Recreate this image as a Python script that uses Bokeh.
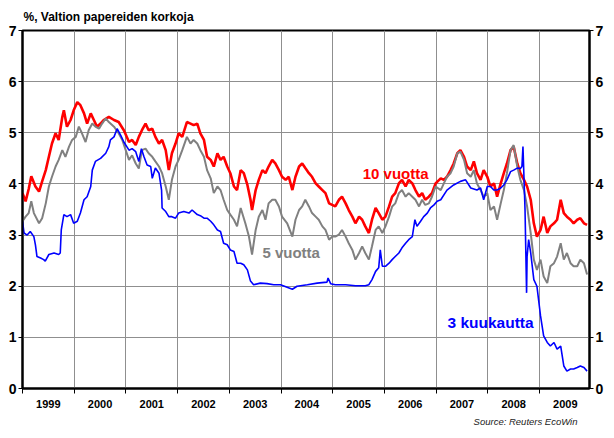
from bokeh.plotting import figure
from bokeh.models import FixedTicker, LinearAxis, Range1d, Label, Title
from bokeh.embed import file_html
from bokeh.resources import INLINE

# ---- data (decimal years, percent) ----
years = [1999, 2000, 2001, 2002, 2003, 2004, 2005, 2006, 2007, 2008, 2009]
year_labels = [str(y) for y in years]
y_ticks = [0, 1, 2, 3, 4, 5, 6, 7]

t_10y = [1999.00, 1999.06, 1999.12, 1999.17, 1999.25, 1999.32, 1999.38, 1999.45, 1999.51, 1999.57,
         1999.64, 1999.70, 1999.77, 1999.80, 1999.86, 1999.93, 1999.99, 2000.06, 2000.12, 2000.19,
         2000.25, 2000.32, 2000.38, 2000.44, 2000.51, 2000.57, 2000.67, 2000.77, 2000.86, 2000.96,
         2001.06, 2001.12, 2001.19, 2001.25, 2001.31, 2001.38, 2001.44, 2001.51, 2001.57, 2001.64,
         2001.70, 2001.77, 2001.83, 2001.89, 2001.96, 2002.02, 2002.09, 2002.18, 2002.25, 2002.31,
         2002.38, 2002.44, 2002.51, 2002.57, 2002.64, 2002.70, 2002.77, 2002.83, 2002.89, 2002.96,
         2003.02, 2003.09, 2003.15, 2003.22, 2003.28, 2003.35, 2003.41, 2003.44, 2003.51, 2003.57,
         2003.64, 2003.70, 2003.76, 2003.83, 2003.89, 2003.96, 2004.02, 2004.09, 2004.15, 2004.22,
         2004.28, 2004.35, 2004.41, 2004.47, 2004.54, 2004.60, 2004.67, 2004.73, 2004.80, 2004.86,
         2004.93, 2004.99, 2005.05, 2005.12, 2005.18, 2005.25, 2005.31, 2005.38, 2005.44, 2005.51,
         2005.57, 2005.63, 2005.70, 2005.76, 2005.83, 2005.89, 2005.96, 2006.02, 2006.09, 2006.15,
         2006.21, 2006.28, 2006.34, 2006.41, 2006.47, 2006.54, 2006.60, 2006.67, 2006.73, 2006.79,
         2006.86, 2006.92, 2006.99, 2007.09, 2007.15, 2007.21, 2007.28, 2007.34, 2007.41, 2007.47,
         2007.54, 2007.60, 2007.67, 2007.73, 2007.79, 2007.86, 2007.92, 2007.99, 2008.05, 2008.12,
         2008.18, 2008.25, 2008.31, 2008.37, 2008.44, 2008.50, 2008.57, 2008.63, 2008.70, 2008.76,
         2008.83, 2008.89, 2008.95, 2009.02, 2009.08, 2009.15, 2009.21, 2009.28, 2009.34, 2009.41,
         2009.47, 2009.53, 2009.60, 2009.66, 2009.73, 2009.79, 2009.86, 2009.92]
v_10y = [3.82, 3.66, 3.90, 4.15, 3.95, 3.85, 4.05, 4.27, 4.53, 4.79,
         4.99, 4.86, 5.31, 5.44, 5.12, 5.25, 5.44, 5.60, 5.54, 5.38,
         5.18, 5.38, 5.25, 5.12, 5.18, 5.25, 5.31, 5.25, 5.21, 5.05,
         4.82, 4.86, 4.76, 4.92, 5.05, 5.18, 5.05, 5.08, 4.92, 4.79,
         4.86, 4.66, 4.27, 4.60, 4.79, 4.99, 4.92, 5.21, 5.18, 5.15,
         5.18, 4.99, 4.86, 4.53, 4.47, 4.34, 4.60, 4.47, 4.53, 4.34,
         4.21, 3.95, 3.88, 4.27, 4.21, 3.98, 3.69, 3.49, 3.88, 4.08,
         4.27, 4.21, 4.34, 4.47, 4.40, 4.27, 4.14, 4.08, 4.14, 3.88,
         4.14, 4.34, 4.40, 4.31, 4.21, 4.14, 4.01, 3.95, 3.88, 3.82,
         3.62, 3.59, 3.56, 3.69, 3.75, 3.62, 3.49, 3.36, 3.23, 3.36,
         3.30, 3.17, 3.04, 3.30, 3.53, 3.43, 3.30, 3.36, 3.56, 3.75,
         3.82, 4.01, 4.08, 3.95, 4.08, 4.01, 3.88, 3.75, 3.82, 3.69,
         3.75, 3.82, 4.01, 4.11, 4.08, 4.14, 4.27, 4.40, 4.60, 4.66,
         4.53, 4.34, 4.27, 4.44, 4.21, 4.08, 4.27, 4.14, 3.95, 4.01,
         3.75, 4.01, 4.21, 4.40, 4.66, 4.73, 4.40, 4.21, 4.08, 3.95,
         3.69, 3.23, 2.97, 3.10, 3.36, 3.04, 3.17, 3.23, 3.30, 3.69,
         3.43, 3.36, 3.30, 3.23, 3.30, 3.33, 3.23, 3.20]

t_5y = [1999.00, 1999.06, 1999.12, 1999.17, 1999.22, 1999.32, 1999.38, 1999.45, 1999.51, 1999.57,
        1999.64, 1999.70, 1999.77, 1999.83, 1999.90, 1999.96, 2000.03, 2000.09, 2000.15, 2000.22,
        2000.28, 2000.35, 2000.41, 2000.48, 2000.54, 2000.61, 2000.67, 2000.77, 2000.86, 2000.93,
        2001.06, 2001.12, 2001.19, 2001.25, 2001.31, 2001.38, 2001.44, 2001.51, 2001.57, 2001.64,
        2001.70, 2001.77, 2001.83, 2001.89, 2001.96, 2002.02, 2002.09, 2002.18, 2002.25, 2002.31,
        2002.38, 2002.44, 2002.51, 2002.57, 2002.64, 2002.70, 2002.77, 2002.83, 2002.89, 2002.96,
        2003.02, 2003.09, 2003.15, 2003.22, 2003.31, 2003.38, 2003.44, 2003.51, 2003.57, 2003.64,
        2003.70, 2003.76, 2003.83, 2003.89, 2003.96, 2004.02, 2004.12, 2004.22, 2004.28, 2004.35,
        2004.41, 2004.47, 2004.54, 2004.60, 2004.67, 2004.73, 2004.80, 2004.86, 2004.93, 2004.99,
        2005.05, 2005.12, 2005.18, 2005.25, 2005.31, 2005.38, 2005.44, 2005.51, 2005.57, 2005.63,
        2005.70, 2005.76, 2005.83, 2005.89, 2005.96, 2006.02, 2006.09, 2006.15, 2006.21, 2006.28,
        2006.34, 2006.41, 2006.47, 2006.54, 2006.60, 2006.67, 2006.73, 2006.79, 2006.86, 2006.92,
        2006.99, 2007.09, 2007.15, 2007.21, 2007.28, 2007.34, 2007.41, 2007.47, 2007.54, 2007.60,
        2007.67, 2007.73, 2007.79, 2007.86, 2007.92, 2007.99, 2008.05, 2008.12, 2008.18, 2008.25,
        2008.31, 2008.37, 2008.44, 2008.50, 2008.57, 2008.63, 2008.70, 2008.76, 2008.83, 2008.89,
        2008.95, 2009.02, 2009.08, 2009.15, 2009.21, 2009.28, 2009.34, 2009.41, 2009.47, 2009.53,
        2009.60, 2009.66, 2009.73, 2009.79, 2009.86, 2009.92]
v_5y = [3.27, 3.36, 3.43, 3.66, 3.43, 3.23, 3.33, 3.62, 3.95, 4.14,
        4.34, 4.47, 4.66, 4.53, 4.73, 4.86, 4.92, 5.12, 4.99, 4.82,
        5.05, 5.18, 5.12, 5.08, 5.18, 5.28, 5.21, 5.12, 4.99, 4.86,
        4.47, 4.56, 4.40, 4.30, 4.66, 4.69, 4.60, 4.53, 4.44, 4.34,
        4.21, 3.95, 3.69, 4.08, 4.34, 4.47, 4.66, 4.92, 4.79, 4.86,
        4.79, 4.66, 4.53, 4.27, 4.11, 3.82, 3.95, 3.88, 3.69, 3.49,
        3.40, 3.30, 3.17, 3.53, 3.23, 2.97, 2.62, 3.10, 3.36, 3.49,
        3.30, 3.62, 3.69, 3.69, 3.56, 3.36, 3.23, 2.97, 3.30, 3.49,
        3.56, 3.69, 3.56, 3.43, 3.36, 3.30, 3.17, 3.10, 2.91, 2.97,
        2.97, 3.01, 3.10, 2.97, 2.84, 2.71, 2.52, 2.65, 2.78, 2.65,
        2.52, 2.78, 3.10, 3.17, 3.04, 3.17, 3.36, 3.56, 3.62, 3.82,
        3.88, 3.75, 3.82, 3.75, 3.69, 3.56, 3.69, 3.59, 3.62, 3.75,
        3.95, 3.88, 4.01, 4.14, 4.21, 4.34, 4.60, 4.63, 4.47, 4.21,
        4.14, 4.27, 4.01, 3.88, 3.75, 3.82, 3.49, 3.56, 3.30, 3.62,
        3.88, 4.21, 4.66, 4.76, 4.34, 4.08, 3.88, 3.56, 3.04, 2.52,
        2.32, 2.52, 2.19, 2.06, 2.39, 2.45, 2.58, 2.84, 2.52, 2.65,
        2.45, 2.39, 2.39, 2.52, 2.45, 2.23]

t_3m = [1999.00, 1999.03, 1999.09, 1999.15, 1999.22, 1999.25, 1999.28, 1999.35, 1999.41, 1999.44,
        1999.51, 1999.61, 1999.70, 1999.73, 1999.75, 1999.80, 1999.86, 1999.93, 1999.99, 2000.06,
        2000.12, 2000.19, 2000.25, 2000.32, 2000.35, 2000.41, 2000.51, 2000.61, 2000.67, 2000.70,
        2000.77, 2000.83, 2000.90, 2000.96, 2001.06, 2001.12, 2001.19, 2001.25, 2001.30, 2001.35,
        2001.41, 2001.48, 2001.51, 2001.57, 2001.64, 2001.69, 2001.70, 2001.77, 2001.83, 2001.89,
        2001.96, 2002.02, 2002.12, 2002.22, 2002.28, 2002.38, 2002.44, 2002.51, 2002.57, 2002.64,
        2002.70, 2002.77, 2002.83, 2002.89, 2002.96, 2003.02, 2003.09, 2003.15, 2003.22, 2003.28,
        2003.35, 2003.41, 2003.47, 2003.60, 2003.73, 2003.86, 2003.99, 2004.22, 2004.31, 2004.51,
        2004.70, 2004.89, 2004.91, 2004.96, 2005.05, 2005.25, 2005.44, 2005.63, 2005.70, 2005.76,
        2005.83, 2005.89, 2005.92, 2005.96, 2006.02, 2006.09, 2006.15, 2006.21, 2006.28, 2006.34,
        2006.41, 2006.47, 2006.54, 2006.59, 2006.63, 2006.70, 2006.76, 2006.83, 2006.89, 2006.96,
        2007.02, 2007.09, 2007.21, 2007.34, 2007.47, 2007.57, 2007.67, 2007.79, 2007.86, 2007.92,
        2007.99, 2008.05, 2008.12, 2008.18, 2008.25, 2008.31, 2008.37, 2008.44, 2008.50, 2008.57,
        2008.63, 2008.66, 2008.68, 2008.72, 2008.75, 2008.76, 2008.79, 2008.83, 2008.89, 2008.95,
        2009.02, 2009.08, 2009.15, 2009.21, 2009.28, 2009.34, 2009.41, 2009.47, 2009.53, 2009.60,
        2009.66, 2009.73, 2009.79, 2009.86, 2009.92]
v_3m = [3.27, 3.04, 3.00, 3.07, 2.97, 2.81, 2.58, 2.55, 2.52, 2.49,
        2.62, 2.65, 2.62, 2.65, 3.10, 3.40, 3.36, 3.40, 3.23, 3.27,
        3.43, 3.69, 3.75, 3.95, 4.27, 4.44, 4.50, 4.60, 4.73, 4.86,
        4.92, 5.08, 4.95, 4.82, 4.66, 4.69, 4.63, 4.44, 4.69, 4.53,
        4.37, 4.34, 4.11, 4.31, 4.21, 3.88, 3.53, 3.46, 3.36, 3.36,
        3.33, 3.43, 3.46, 3.43, 3.49, 3.40, 3.38, 3.33, 3.33, 3.27,
        3.20, 3.10, 3.07, 2.84, 2.81, 2.71, 2.68, 2.45, 2.45, 2.42,
        2.32, 2.10, 2.03, 2.06, 2.05, 2.03, 2.03, 1.94, 2.00, 2.03,
        2.06, 2.08, 2.16, 2.05, 2.03, 2.03, 2.01, 2.01, 2.03, 2.13,
        2.29, 2.36, 2.71, 2.39, 2.39, 2.45, 2.52, 2.58, 2.65, 2.75,
        2.84, 2.91, 2.97, 3.30, 3.17, 3.27, 3.36, 3.43, 3.53, 3.59,
        3.66, 3.69, 3.88, 3.98, 4.05, 4.08, 3.92, 3.88, 3.92, 3.69,
        3.95, 3.95, 3.88, 3.88, 3.92, 3.98, 4.08, 4.24, 4.27, 4.31,
        4.30, 4.34, 4.73, 3.49, 1.87, 2.58, 2.91, 2.65, 2.13, 2.00,
        1.42, 1.03, 0.90, 0.83, 0.90, 0.77, 0.83, 0.44, 0.34, 0.38,
        0.38, 0.41, 0.44, 0.41, 0.34]

FONT = "Liberation Sans"

p = figure(width=606, height=430,
           x_range=Range1d(1999.0, 2009.967), y_range=Range1d(0, 7),
           output_backend="svg", toolbar_location=None,
           min_border_left=22, min_border_right=17,
           min_border_top=30, min_border_bottom=41)
p.background_fill_color = "white"
p.border_fill_color = "white"
p.outline_line_color = "black"
p.outline_line_width = 2

# grid
p.xgrid.ticker = FixedTicker(ticks=years[1:])
p.ygrid.ticker = FixedTicker(ticks=y_ticks)
for g in (p.xgrid, p.ygrid):
    g.grid_line_color = "#8f8f8f"
    g.grid_line_width = 1

# x axis: labels at mid-year, tick marks at year boundaries
mids = [y + 0.5 for y in years]
xa = p.xaxis[0]
xa.ticker = FixedTicker(ticks=mids, minor_ticks=years)
xa.major_label_overrides = {m: lab for m, lab in zip(mids, year_labels)}
xa.major_tick_line_color = None
xa.major_tick_out = 0
xa.major_tick_in = 0
xa.minor_tick_out = 5
xa.minor_tick_in = 0
xa.minor_tick_line_color = "black"
xa.axis_line_color = "black"
xa.axis_line_width = 2
xa.major_label_standoff = 6
xa.major_label_text_font = FONT
xa.major_label_text_font_style = "bold"
xa.major_label_text_font_size = "11px"
xa.major_label_text_color = "black"

def style_y(ax):
    ax.ticker = FixedTicker(ticks=y_ticks)
    ax.major_tick_out = 4
    ax.major_tick_in = 0
    ax.minor_tick_line_color = None
    ax.major_tick_line_color = "black"
    ax.axis_line_color = "black"
    ax.axis_line_width = 2
    ax.major_label_standoff = 2
    ax.major_label_text_font = FONT
    ax.major_label_text_font_style = "bold"
    ax.major_label_text_font_size = "14px"
    ax.major_label_text_color = "black"

style_y(p.yaxis[0])
ry = LinearAxis()
style_y(ry)
p.add_layout(ry, "right")

# series
p.line(t_10y, v_10y, line_color="#ff0000", line_width=2.6)
p.line(t_5y, v_5y, line_color="#808080", line_width=2.0)
p.line(t_3m, v_3m, line_color="#0000ff", line_width=1.6)

# series labels
p.add_layout(Label(x=2005.58, y=4.205, text="10 vuotta", text_color="#ff0000",
                   text_font=FONT, text_font_style="bold", text_font_size="15px",
                   text_align="left", text_baseline="alphabetic"))
p.add_layout(Label(x=2003.64, y=2.65, text="5 vuotta", text_color="#808080",
                   text_font=FONT, text_font_style="bold", text_font_size="15px",
                   text_align="left", text_baseline="alphabetic"))
p.add_layout(Label(x=2007.22, y=1.29, text="3 kuukautta", text_color="#0000ff",
                   text_font=FONT, text_font_style="bold", text_font_size="15.5px",
                   text_align="left", text_baseline="alphabetic"))

# title (above) and source (below)
p.add_layout(Title(text="%, Valtion papereiden korkoja", align="left",
                   text_font=FONT, text_font_style="bold", text_font_size="12px",
                   text_color="black", standoff=13, offset=1), "above")
p.add_layout(Title(text="Source: Reuters EcoWin", align="right",
                   text_font=FONT, text_font_style="italic", text_font_size="9.5px",
                   text_color="#222222", standoff=7, offset=12), "below")

open("out.html", "w").write(file_html(p, INLINE))
